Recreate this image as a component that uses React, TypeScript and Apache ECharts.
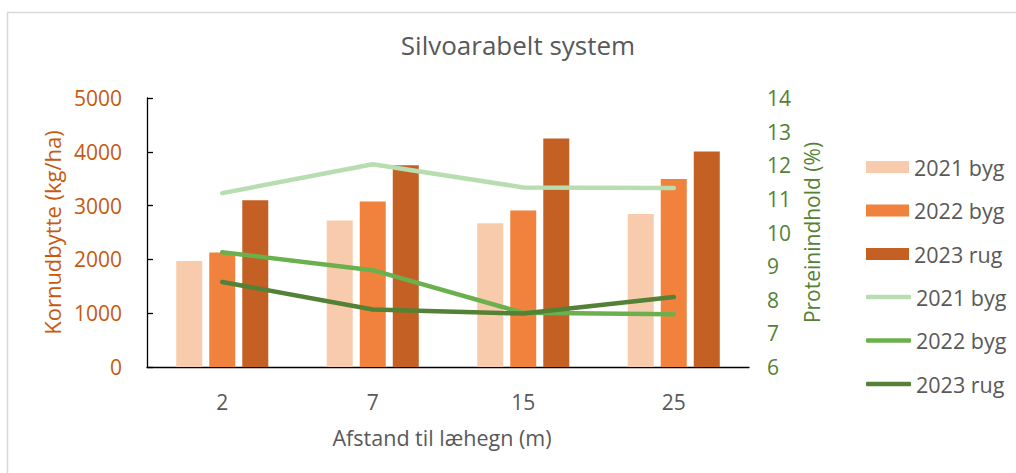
import React, { useEffect, useRef } from "react";
import * as echarts from "echarts";

const categories = ["2", "7", "15", "25"];
const barNames = ["2021 byg", "2022 byg", "2023 rug"];
const yield2021 = [1970, 2725, 2670, 2845];
const yield2022 = [2130, 3075, 2910, 3495];
const yield2023 = [3100, 3750, 4245, 4005];
const protein2021 = [11.17, 12.03, 11.34, 11.32];
const protein2022 = [9.41, 8.88, 7.61, 7.57];
const protein2023 = [8.53, 7.71, 7.59, 8.08];
const leftTicks = { min: 0, max: 5000, interval: 1000 };
const rightTicks = { min: 6, max: 14, interval: 1 };

const FONT = "'Open Sans', sans-serif";
const GREY = "#595959";
const ORANGE_TXT = "#C55A11";
const GREEN_TXT = "#548235";

export default function App() {
  const ref = useRef<HTMLDivElement>(null);
  useEffect(() => {
    if (!ref.current) return;
    const chart = echarts.init(ref.current, null, { renderer: "svg" });
    const barColors = ["#F8CBAD", "#F0823D", "#C46024"];
    const lineColors = ["#B7DDB1", "#6AB04C", "#538135"];
    const barData = [yield2021, yield2022, yield2023];
    const lineData = [protein2021, protein2022, protein2023];
    const legendText = { fontFamily: FONT, fontSize: 21.5, color: GREY, lineHeight: 22 };
    chart.setOption({
      animation: false,
      textStyle: { fontFamily: FONT },
      title: {
        text: "Silvoarabelt system",
        left: 518,
        textAlign: "center",
        top: 32,
        padding: 0,
        textStyle: { fontFamily: FONT, fontSize: 26, fontWeight: "normal", color: GREY },
      },
      graphic: [
        {
          type: "rect",
          shape: { x: 7.5, y: 12.5, width: 1200, height: 600 },
          style: { fill: "none", stroke: "#D9D9D9", lineWidth: 1.5 },
          silent: true,
        },
      ],
      legend: [
        {
          orient: "vertical",
          left: 866,
          top: 156,
          padding: 0,
          itemWidth: 43,
          itemHeight: 12,
          itemGap: 21.5,
          icon: "rect",
          textStyle: legendText,
          data: barNames.map((n) => n + " "),
          formatter: (n: string) => n.trim(),
        },
        {
          orient: "vertical",
          left: 866,
          top: 286,
          padding: 0,
          itemWidth: 45,
          itemHeight: 4.5,
          itemGap: 21.5,
          icon: "roundRect",
          textStyle: legendText,
          data: barNames.slice(),
        },
      ],
      grid: { left: 147, right: 267, top: 98, bottom: 106, containLabel: false },
      xAxis: {
        type: "category",
        data: categories,
        boundaryGap: true,
        name: "Afstand til læhegn (m)",
        nameLocation: "middle",
        nameGap: 59,
        nameTextStyle: { fontFamily: FONT, fontSize: 21.5, color: GREY, padding: [0, 12, 0, 0] },
        axisLine: { lineStyle: { color: "#000", width: 1.3 } },
        axisTick: { inside: true, length: 7, lineStyle: { color: "#000", width: 1.3 } },
        axisLabel: { color: GREY, fontSize: 21, fontFamily: FONT, margin: 24 },
      },
      yAxis: [
        {
          type: "value",
          ...leftTicks,
          name: "Kornudbytte (kg/ha)",
          nameLocation: "middle",
          nameRotate: 90,
          nameGap: 73,
          nameTextStyle: { fontFamily: FONT, fontSize: 22, color: ORANGE_TXT },
          axisLine: { show: true, lineStyle: { color: "#000", width: 1.3 } },
          axisTick: { show: true, inside: true, length: 6, lineStyle: { color: "#000", width: 1.3 } },
          splitLine: { show: false },
          axisLabel: {
            color: ORANGE_TXT,
            fontSize: 21,
            fontFamily: FONT,
            margin: 25,
            formatter: (v: number) => String(v),
          },
        },
        {
          type: "value",
          ...rightTicks,
          position: "right",
          name: "Proteinindhold (%)",
          nameLocation: "middle",
          nameRotate: 90,
          nameGap: 52,
          nameTextStyle: { fontFamily: FONT, fontSize: 21, color: GREEN_TXT },
          axisLine: { show: false },
          axisTick: { show: false },
          splitLine: { show: false },
          axisLabel: { color: GREEN_TXT, fontSize: 21, fontFamily: FONT, margin: 18 },
        },
      ],
      series: [
        ...barNames.map((n, i) => ({
          name: n + " ",
          type: "bar",
          yAxisIndex: 0,
          data: barData[i],
          barWidth: 26,
          barGap: "27%",
          itemStyle: { color: barColors[i] },
        })),
        ...barNames.map((n, i) => ({
          name: n,
          type: "line",
          yAxisIndex: 1,
          data: lineData[i],
          symbol: "none",
          lineStyle: { color: lineColors[i], width: 4.5, cap: "round", join: "round" },
          itemStyle: { color: lineColors[i] },
        })),
      ],
    });
    return () => chart.dispose();
  }, []);
  return (
    <div
      ref={ref}
      style={{ position: "absolute", left: 0, top: 0, width: 1016, height: 473, background: "#fff" }}
    />
  );
}
